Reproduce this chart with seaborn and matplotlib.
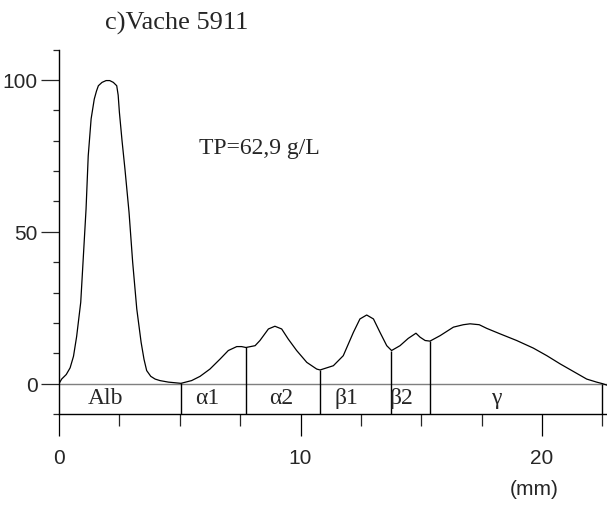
import matplotlib
matplotlib.use("Agg")
import matplotlib.pyplot as plt
import seaborn as sns
import pandas as pd
from matplotlib.ticker import FixedLocator

# ---------------- data ----------------
position_mm = [0, 0.11, 0.30, 0.46, 0.60, 0.73, 0.90, 1.01, 1.12, 1.21, 1.33, 1.46, 1.55,
               1.63, 1.78, 1.95, 2.10, 2.25, 2.39, 2.45, 2.50, 2.61, 2.73, 2.90, 3.05,
               3.22, 3.40, 3.52, 3.63, 3.80, 3.98, 4.18, 4.53, 5.05,
               5.49, 5.84, 6.25, 6.67, 7.01, 7.36, 7.56, 7.74, 8.12, 8.32, 8.67, 8.94,
               9.22, 9.49, 9.84, 10.26, 10.67, 10.81, 11.36, 11.77, 12.19, 12.46, 12.74,
               13.02, 13.29, 13.57, 13.77, 14.12, 14.46, 14.78, 14.95, 15.16, 15.36,
               15.78, 16.33, 16.74, 17.02, 17.40, 17.71, 18.26, 18.95, 19.64, 20.2,
               20.75, 21.3, 21.85, 22.26, 22.5, 22.69]
intensity = [0, 1.5, 3.0, 5.2, 9.0, 15.5, 26.8, 42.1, 57.5, 75, 87.2, 93.7, 96.3,
             98.1, 99.2, 99.8, 99.8, 99.2, 98.1, 95.0, 89.4, 80.0, 70.7, 56.4, 40,
             24.6, 13.6, 8.0, 4.3, 2.4, 1.5, 1.0, 0.5, 0.1,
             1.0, 2.4, 4.8, 8.1, 10.9, 12.2, 12.2, 11.9, 12.5, 14.2, 18.0, 18.9,
             18.0, 14.7, 10.9, 7.0, 4.8, 4.5, 5.9, 9.2, 16.9, 21.3, 22.6,
             21.3, 16.9, 12.5, 10.9, 12.5, 14.9, 16.6, 15.3, 14.2, 14.0,
             15.8, 18.6, 19.4, 19.7, 19.4, 18.2, 16.4, 14.2, 11.7, 9.2,
             6.5, 4.0, 1.5, 0.5, 0.0, -0.5]

divider_x = [5.05, 7.74, 10.81, 13.73, 15.36, 22.5]
divider_top = [0.1, 11.9, 4.5, 10.9, 14.0, 0.0]

fraction_labels = ["Alb", "\u03b11", "\u03b12", "\u03b21", "\u03b22", "\u03b3"]
label_x = [1.93, 6.15, 9.19, 11.9, 14.19, 18.1]

title = "c)Vache 5911"
tp_text = "TP=62,9 g/L"

df = pd.DataFrame({"mm": position_mm, "val": intensity})

# ---------------- style ----------------
sns.set_style("ticks")
plt.rcParams["font.family"] = ["Liberation Sans Narrow", "Liberation Sans", "DejaVu Sans"]

fig = plt.figure(figsize=(6.07, 5.06), dpi=100)
ax = fig.add_axes([59 / 607, (506 - 415) / 506, 548 / 607, 364.4 / 506])

sns.lineplot(data=df, x="mm", y="val", ax=ax, color="black", linewidth=0.9,
             sort=False, estimator=None)

ax.set_xlim(0, 22.69)
ax.set_ylim(-10, 110)

# baseline at 0 (grey)
ax.axhline(0, color="#7f7f7f", linewidth=1.0, zorder=1)
# fraction dividers
ax.vlines(divider_x, -10, divider_top, color="black", linewidth=1.0)

serif = ["Liberation Serif", "DejaVu Serif"]
for lab, lx in zip(fraction_labels, label_x):
    ax.text(lx, -4.7, lab, ha="center", va="center", fontsize=17, family=serif)

ax.text(8.3, 77.6, tp_text, ha="center", va="center", fontsize=17, family=serif)
fig.text(177 / 607, 1 - 23 / 506, title, ha="center", va="center", fontsize=19,
         family=serif)

# spines
for s in ["top", "right"]:
    ax.spines[s].set_visible(False)
for s in ["left", "bottom"]:
    ax.spines[s].set_linewidth(1.0)
    ax.spines[s].set_color("black")

ax.xaxis.set_major_locator(FixedLocator([0, 10, 20]))
ax.xaxis.set_minor_locator(FixedLocator([2.5, 5, 7.5, 12.5, 15, 17.5, 22.5]))
ax.yaxis.set_major_locator(FixedLocator([0, 50, 100]))
ax.yaxis.set_minor_locator(FixedLocator([-10, 10, 20, 30, 40, 60, 70, 80, 90, 110]))

ax.tick_params(axis="x", which="major", length=15.8, width=0.9, pad=8.5,
               labelsize=15, direction="out", color="black")
ax.tick_params(axis="x", which="minor", length=8.4, width=0.9, direction="out")
ax.tick_params(axis="y", which="major", length=13, width=0.9, pad=2.4,
               labelsize=15, direction="out")
ax.tick_params(axis="y", which="minor", length=4.3, width=0.9, direction="out")

ax.set_xlabel("")
ax.set_ylabel("")
fig.text(534 / 607, 1 - 490 / 506, "(mm)", ha="center", va="center", fontsize=15)

fig.savefig("out.png", dpi=100)
